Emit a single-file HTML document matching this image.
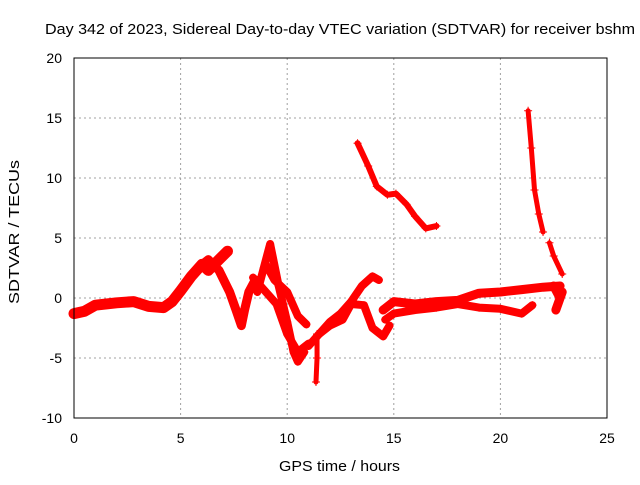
<!DOCTYPE html>
<html><head><meta charset="utf-8"><style>
body{margin:0;background:#fff}
svg text{font-family:"Liberation Sans",sans-serif;font-size:14px;fill:#000}
</style></head><body>
<svg width="640" height="480" id="c">
<rect width="640" height="480" fill="#fff"/>
<text x="45" y="34" textLength="590" lengthAdjust="spacingAndGlyphs" style="font-size:15px">Day 342 of 2023, Sidereal Day-to-day VTEC variation (SDTVAR) for receiver bshm</text>
<text x="279" y="471" textLength="121" lengthAdjust="spacingAndGlyphs" style="font-size:15px">GPS time / hours</text>
<text transform="translate(19,304) rotate(-90)" textLength="144" lengthAdjust="spacingAndGlyphs" style="font-size:15px">SDTVAR / TECUs</text>
<g id="grid"></g><g id="ticks"></g><g id="marks"></g>
<rect x="74" y="58" width="533" height="360" fill="none" stroke="#000"/>
</svg>
<script>
const xTicks=[0,5,10,15,20,25];
const yTicks=[-10,-5,0,5,10,15,20];
const trackA=[[0,-1.3],[0.5,-1.1],[1,-0.6],[2,-0.4],[2.8,-0.3],[3.5,-0.7],[4.2,-0.8],[4.6,-0.3],[5,0.6],[5.5,1.8],[6,2.8],[6.3,2.3],[6.8,3.2],[7.2,3.9]];
const trackB=[[5.8,2.5],[6.3,3.2],[6.8,2.3],[7.3,0.5],[7.6,-1],[7.85,-2.3],[8.0,-1],[8.2,0.5],[8.5,1.5]];
const trackC=[[8.6,0.5],[8.9,2.5],[9.2,4.5],[9.6,1],[10,-2],[10.3,-4.5],[10.5,-5.3],[10.8,-4.5]];
const trackD=[[8.4,1.7],[9,0.5],[9.5,-0.5],[10,-3],[10.5,-4.5],[11,-3.8]];
const trackE=[[9.0,2.8],[9.4,1.5],[10,0.5],[10.5,-1.5],[10.9,-2.2]];
const trackF=[[11,-4],[11.5,-3],[12,-2],[12.5,-1.3],[13,-0.3],[13.5,1],[14,1.8],[14.3,1.5]];
const trackG=[[11.5,-3],[12,-2.3],[12.6,-1.8],[13,-0.5],[13.6,-0.6],[14,-2.5],[14.5,-3.2],[14.8,-2.3]];
const trackH=[[14.5,-1],[15,-0.3],[16,-0.5],[17,-0.3],[18,-0.2],[19,0.4],[20,0.5],[21,0.7],[22,0.9],[22.8,1.0]];
const trackI=[[14.6,-1.8],[15,-1.3],[16,-1],[17,-0.8],[18,-0.5],[19,-0.8],[20,-0.9],[21,-1.3],[21.5,-0.6]];
const trackSpike=[[11.4,-3],[11.4,-5],[11.35,-7]];
const trackJ=[[13.3,12.9],[13.8,11],[14.2,9.3],[14.7,8.6],[15.1,8.7],[15.6,7.8],[16,6.8],[16.5,5.8],[17,6.0]];
const trackK=[[21.3,15.6],[21.45,12.5],[21.6,9],[21.8,7],[22.0,5.5]];
const trackL=[[22.3,4.6],[22.5,3.5],[22.9,2.0]];
const trackM=[[22.5,1],[22.8,0],[22.6,-1],[22.9,0.5]];
const tracks=[[trackA,11],[trackB,9],[trackC,8],[trackD,8],[trackE,8],[trackF,8],[trackG,8],[trackH,9],[trackI,8],[trackSpike,5],[trackJ,6],[trackK,5],[trackL,5],[trackM,9]];
const X=t=>74+t*533/25, Y=v=>418-(v+10)*12;
const NS="http://www.w3.org/2000/svg";
const g=document.getElementById('grid'),tk=document.getElementById('ticks'),mk=document.getElementById('marks');
function el(p,n,a){const e=document.createElementNS(NS,n);for(const k in a)e.setAttribute(k,a[k]);p.appendChild(e);return e;}
xTicks.forEach(t=>{
 if(t>0&&t<25){const l=el(g,'line',{x1:X(t),x2:X(t),y1:58,y2:418,stroke:'#a0a0a0','stroke-dasharray':'2,3'});
 
 }
 const s=el(tk,'text',{x:X(t),y:443,'text-anchor':'middle'});s.textContent=t;
 
 
});
yTicks.forEach(v=>{
 if(v>-10&&v<20){const l=el(g,'line',{x1:74,x2:607,y1:Y(v),y2:Y(v),stroke:'#a0a0a0','stroke-dasharray':'2,3'});
 
 }
 const s=el(tk,'text',{x:62,y:Y(v)+5,'text-anchor':'end'});s.textContent=v;
 
 
});
tracks.forEach(([d,w])=>{
 const p=el(mk,'polyline',{points:d.map(q=>X(q[0])+','+Y(q[1])).join(' '),fill:'none',stroke:'#ff0000','stroke-width':w,'stroke-linejoin':'round','stroke-linecap':'round'});
 
 
 d.forEach(q=>{const m=el(mk,'path',{d:`M${X(q[0])-4},${Y(q[1])}h8M${X(q[0])},${Y(q[1])-4}v8`,stroke:'#ff0000','stroke-width':1});
 
 });
});
</script>
</body></html>
